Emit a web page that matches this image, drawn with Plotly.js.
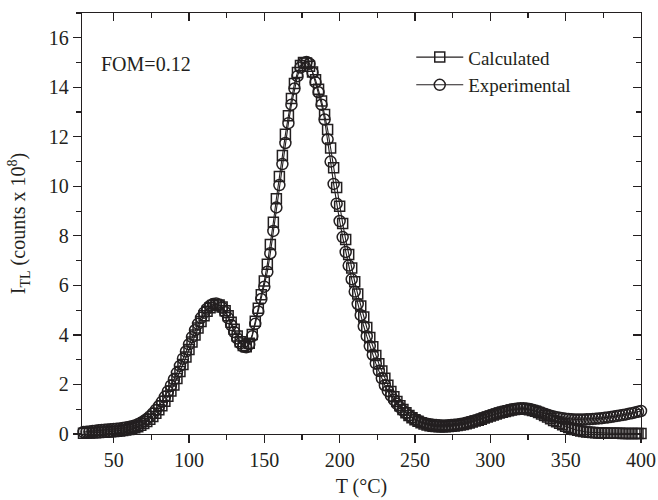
<!DOCTYPE html>
<html>
<head>
<meta charset="utf-8">
<script src="https://cdn.plot.ly/plotly-3.0.1.min.js"></script>
<style>html,body{margin:0;padding:0;background:#fff;}#chart{width:658px;height:500px;}</style>
</head>
<body>
<div id="chart"></div>
<script>
// Temperature (°C)
const temperature = [
  30,32,34,36,38,40,42,44,46,48,
  50,52,54,56,58,60,62,64,66,68,
  70,72,74,76,78,80,82,84,86,88,
  90,92,94,96,98,100,102,104,106,108,
  110,112,114,116,118,120,122,124,126,128,
  130,132,134,136,138,140,142,144,146,148,
  150,152,154,156,158,160,162,164,166,168,
  170,172,174,176,178,180,182,184,186,188,
  190,192,194,196,198,200,202,204,206,208,
  210,212,214,216,218,220,222,224,226,228,
  230,232,234,236,238,240,242,244,246,248,
  250,252,254,256,258,260,262,264,266,268,
  270,272,274,276,278,280,282,284,286,288,
  290,292,294,296,298,300,302,304,306,308,
  310,312,314,316,318,320,322,324,326,328,
  330,332,334,336,338,340,342,344,346,348,
  350,352,354,356,358,360,362,364,366,368,
  370,372,374,376,378,380,382,384,386,388,
  390,392,394,396,398,400
];
// Calculated glow curve (counts x 1e8)
const calculated = [
  0.03,0.04,0.04,0.05,0.05,0.06,0.07,0.07,0.08,0.09,
  0.10,0.11,0.12,0.14,0.16,0.18,0.21,0.25,0.29,0.35,
  0.42,0.50,0.60,0.71,0.84,0.98,1.14,1.32,1.52,1.74,
  1.98,2.24,2.52,2.81,3.11,3.41,3.71,4.00,4.28,4.54,
  4.77,4.96,5.10,5.19,5.23,5.21,5.13,4.98,4.77,4.51,
  4.23,3.96,3.73,3.57,3.52,3.66,4.02,4.55,5.08,5.62,
  6.18,6.85,7.65,8.55,9.50,10.40,11.25,12.10,12.85,13.55,
  14.15,14.60,14.88,15.00,14.98,14.85,14.62,14.30,13.92,13.45,
  12.90,12.30,11.55,10.75,9.95,9.20,8.50,7.85,7.25,6.70,
  6.15,5.65,5.17,4.72,4.30,3.90,3.52,3.17,2.84,2.54,
  2.25,1.97,1.72,1.50,1.31,1.14,0.99,0.86,0.75,0.66,
  0.58,0.51,0.45,0.40,0.36,0.33,0.31,0.30,0.29,0.29,
  0.29,0.30,0.31,0.32,0.34,0.36,0.38,0.41,0.44,0.48,
  0.52,0.56,0.60,0.65,0.69,0.73,0.77,0.81,0.85,0.88,
  0.91,0.94,0.97,0.99,1.00,1.01,1.01,1.00,0.98,0.95,
  0.92,0.87,0.81,0.75,0.69,0.62,0.55,0.49,0.43,0.37,
  0.31,0.26,0.22,0.18,0.15,0.12,0.10,0.08,0.07,0.06,
  0.05,0.04,0.04,0.04,0.03,0.03,0.03,0.03,0.03,0.02,
  0.02,0.02,0.02,0.02,0.02,0.02
];
// Experimental glow curve (counts x 1e8)
const experimental = [
  0.08,0.09,0.10,0.12,0.13,0.15,0.16,0.17,0.18,0.19,
  0.20,0.21,0.22,0.24,0.26,0.28,0.31,0.34,0.39,0.45,
  0.52,0.61,0.71,0.83,0.97,1.12,1.30,1.50,1.72,1.95,
  2.20,2.47,2.75,3.04,3.33,3.62,3.91,4.19,4.45,4.69,
  4.90,5.06,5.18,5.25,5.27,5.22,5.10,4.92,4.68,4.40,
  4.12,3.86,3.66,3.53,3.50,3.62,3.95,4.45,4.95,5.45,
  5.95,6.55,7.30,8.20,9.15,10.05,10.90,11.75,12.55,13.30,
  13.95,14.45,14.80,14.98,15.02,14.95,14.60,14.20,13.80,13.30,
  12.70,11.90,11.00,10.10,9.30,8.60,7.95,7.35,6.80,6.25,
  5.75,5.25,4.80,4.35,3.95,3.55,3.20,2.85,2.55,2.25,
  1.97,1.74,1.55,1.38,1.22,1.08,0.95,0.84,0.74,0.66,
  0.59,0.53,0.48,0.44,0.41,0.39,0.37,0.36,0.35,0.34,
  0.34,0.35,0.36,0.37,0.38,0.40,0.42,0.45,0.48,0.51,
  0.55,0.59,0.63,0.67,0.71,0.75,0.79,0.83,0.87,0.90,
  0.93,0.96,0.99,1.01,1.03,1.04,1.04,1.03,1.01,0.98,
  0.94,0.90,0.86,0.82,0.78,0.74,0.71,0.68,0.66,0.64,
  0.62,0.61,0.60,0.59,0.59,0.59,0.59,0.60,0.60,0.61,
  0.62,0.63,0.64,0.66,0.67,0.69,0.71,0.73,0.75,0.77,
  0.79,0.82,0.84,0.87,0.90,0.93
];
const xTickVals = [50,100,150,200,250,300,350,400];
const xMinorVals = [25,75,125,175,225,275,325,375];
const yTickVals = [0,2,4,6,8,10,12,14,16];
const yMinorVals = [1,3,5,7,9,11,13,15,17];
const seriesNames = ['Calculated','Experimental'];
const fomText = 'FOM=0.12';

const ink = '#231f20';
const fontFam = '"Liberation Serif", "Times New Roman", Times, serif';

const traces = [
  {x: temperature, y: calculated, name: seriesNames[0], type: 'scatter', mode: 'lines+markers',
   cliponaxis: false,
   line: {color: ink, width: 1.1},
   marker: {symbol: 'square-open', size: 10, color: ink, line: {color: ink, width: 1.5}}},
  {x: temperature, y: experimental, name: seriesNames[1], type: 'scatter', mode: 'lines+markers',
   cliponaxis: false,
   line: {color: ink, width: 1.1},
   marker: {symbol: 'circle-open', size: 11, color: ink, line: {color: ink, width: 1.5}}},
  {x: [], y: [], xaxis: 'x2', yaxis: 'y2', showlegend: false, hoverinfo: 'skip', type: 'scatter'}
];

const axisCommon = {
  showgrid: false, zeroline: false, showline: true,
  linecolor: ink, linewidth: 1.3, tickcolor: ink, tickwidth: 1.2,
  tickfont: {family: fontFam, size: 20, color: ink}
};

const layout = {
  width: 658, height: 500,
  margin: {l: 82, r: 17, t: 13, b: 66},
  paper_bgcolor: '#ffffff', plot_bgcolor: '#ffffff',
  font: {family: fontFam, size: 20, color: ink},
  showlegend: true,
  legend: {x: 0.589, y: 0.94, xanchor: 'left', yanchor: 'top',
           bgcolor: 'rgba(0,0,0,0)', borderwidth: 0, itemwidth: 47,
           font: {family: fontFam, size: 19, color: ink}, tracegroupgap: 0},
  xaxis: Object.assign({}, axisCommon, {
    range: [29, 400], tickmode: 'array', tickvals: xTickVals,
    ticks: 'outside', ticklen: 8,
    minor: {tickmode: 'array', tickvals: xMinorVals, ticks: 'outside', ticklen: 5, tickcolor: ink, tickwidth: 1.2},
    title: {text: 'T (°C)', font: {family: fontFam, size: 20, color: ink}, standoff: 8}
  }),
  yaxis: Object.assign({}, axisCommon, {
    range: [0, 17], tickmode: 'array', tickvals: yTickVals,
    ticks: 'outside', ticklen: 8,
    minor: {tickmode: 'array', tickvals: yMinorVals, ticks: 'outside', ticklen: 5, tickcolor: ink, tickwidth: 1.2},
    title: {text: 'I<sub>TL</sub> (counts x 10<sup>8</sup>)', font: {family: fontFam, size: 20, color: ink}, standoff: 17}
  }),
  xaxis2: Object.assign({}, axisCommon, {
    overlaying: 'x', side: 'top', range: [29, 400], tickmode: 'array', tickvals: xTickVals,
    ticks: 'inside', ticklen: 8, showticklabels: false,
    minor: {tickmode: 'array', tickvals: xMinorVals, ticks: 'inside', ticklen: 5, tickcolor: ink, tickwidth: 1.2}
  }),
  yaxis2: Object.assign({}, axisCommon, {
    overlaying: 'y', side: 'right', range: [0, 17], tickmode: 'array', tickvals: yTickVals,
    ticks: 'inside', ticklen: 8, showticklabels: false,
    minor: {tickmode: 'array', tickvals: yMinorVals, ticks: 'inside', ticklen: 5, tickcolor: ink, tickwidth: 1.2}
  }),
  annotations: [
    {text: fomText, xref: 'paper', yref: 'paper', x: 0.03, y: 0.879,
     xanchor: 'left', yanchor: 'middle', showarrow: false,
     font: {family: fontFam, size: 20, color: ink}}
  ]
};

Plotly.newPlot('chart', traces, layout, {displayModeBar: false, staticPlot: true});
</script>
</body>
</html>
